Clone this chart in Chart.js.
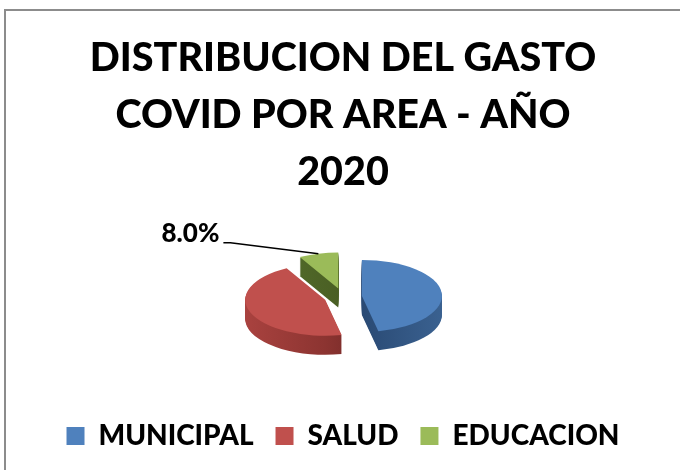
<!DOCTYPE html>
<html lang="es">
<head>
<meta charset="UTF-8">
<title>Distribucion del gasto COVID 2020</title>
<script src="https://cdn.jsdelivr.net/npm/chart.js@4.4.1/dist/chart.umd.min.js"></script>
<style>
    body { margin: 0; background: #fff; }
    .marco {
        position: absolute; left: 4px; top: 9px;
        width: 720px; height: 500px;
        border: 2px solid #8c8c8c;
    }
    #gasto { position: absolute; left: 0; top: 0; }
</style>
</head>
<body>
<div class="marco"></div>
<canvas id="gasto" width="680" height="470"></canvas>
<script>
const areas = ['MUNICIPAL', 'SALUD', 'EDUCACION'];
const gasto = [46.7, 45.3, 8.0];
const conEtiqueta = [false, false, true];

const colores = ['#4f81bd', '#c0504d', '#9bbb59'];
// colores del canto (izquierda, centro, derecha)
const coloresCanto = [
    ['#1b304d', '#2a4a74', '#3a6190'],
    ['#a9423f', '#8c3431', '#5a1e1d'],
    ['#56702c', '#4a5f24', '#3c4d1d']
];

const INCLINACION = 0.45;  // aplastamiento vertical del disco
const GROSOR = 19;         // alto del canto en px
const SEPARACION = 19;     // distancia de cada porcion al centro

function inclinar(ctx, arc) {
    ctx.translate(0, arc.y);
    ctx.scale(1, INCLINACION);
    ctx.translate(0, -arc.y);
}

function separar(ctx, arc) {
    const medio = (arc.startAngle + arc.endAngle) / 2;
    ctx.translate(Math.cos(medio) * SEPARACION, Math.sin(medio) * SEPARACION);
}

const torta3d = {
    id: 'torta3d',
    beforeDatasetsDraw(chart) {
        const ctx = chart.ctx;
        const arcos = chart.getDatasetMeta(0).data;
        // canto: copias desplazadas hacia abajo
        for (let d = GROSOR; d >= 1; d--) {
            arcos.forEach((arc, i) => {
                ctx.save();
                ctx.translate(0, d);
                inclinar(ctx, arc);
                separar(ctx, arc);
                const r = arc.outerRadius;
                const g = ctx.createLinearGradient(arc.x - r, 0, arc.x + r, 0);
                g.addColorStop(0, coloresCanto[i][0]);
                g.addColorStop(0.5, coloresCanto[i][1]);
                g.addColorStop(1, coloresCanto[i][2]);
                ctx.beginPath();
                ctx.moveTo(arc.x, arc.y);
                ctx.arc(arc.x, arc.y, r, arc.startAngle, arc.endAngle);
                ctx.closePath();
                ctx.fillStyle = g;
                ctx.fill();
                ctx.restore();
            });
        }
        // cara superior
        arcos.forEach(arc => {
            ctx.save();
            inclinar(ctx, arc);
            separar(ctx, arc);
            arc.draw(ctx);
            ctx.restore();
        });
        return false;
    },
    // etiqueta de porcentaje con linea guia
    afterDraw(chart) {
        const ctx = chart.ctx;
        const arcos = chart.getDatasetMeta(0).data;
        const total = gasto.reduce((a, b) => a + b, 0);
        arcos.forEach((arc, i) => {
            if (!conEtiqueta[i]) return;
            const medio = (arc.startAngle + arc.endAngle) / 2;
            const dist = SEPARACION + arc.outerRadius;
            const ax = arc.x + Math.cos(medio) * dist;
            const ay = arc.y + Math.sin(medio) * dist * INCLINACION;
            ctx.save();
            ctx.strokeStyle = '#000';
            ctx.lineWidth = 1.5;
            ctx.beginPath();
            ctx.moveTo(ax, ay);
            ctx.lineTo(ax - 88, ay - 11);
            ctx.lineTo(ax - 95, ay - 11);
            ctx.stroke();
            ctx.fillStyle = '#000';
            ctx.font = '900 26px Lato';
            ctx.textAlign = 'right';
            ctx.textBaseline = 'middle';
            ctx.fillText((gasto[i] / total * 100).toFixed(1) + '%', ax - 99, ay - 20);
            ctx.restore();
        });
    }
};

Chart.defaults.color = '#000';
Chart.defaults.font.family = 'Lato';

new Chart(document.getElementById('gasto'), {
    type: 'pie',
    data: {
        labels: areas,
        datasets: [{
            data: gasto,
            backgroundColor: colores,
            borderWidth: 0,
            radius: 80
        }]
    },
    options: {
        responsive: false,
        animation: false,
        layout: { padding: { left: 6, right: 0, top: 0, bottom: 10 } },
        plugins: {
            title: {
                display: true,
                text: ['DISTRIBUCION DEL GASTO', 'COVID POR AREA - AÑO', '2020'],
                font: { size: 39.5, weight: '900', lineHeight: 1.44 },
                padding: { top: 30, bottom: -7 }
            },
            legend: {
                position: 'bottom',
                labels: {
                    font: { size: 28, weight: '900' },
                    boxWidth: 18,
                    boxHeight: 18,
                    padding: 22
                }
            },
            tooltip: { enabled: false }
        }
    },
    plugins: [torta3d]
});
</script>
</body>
</html>
